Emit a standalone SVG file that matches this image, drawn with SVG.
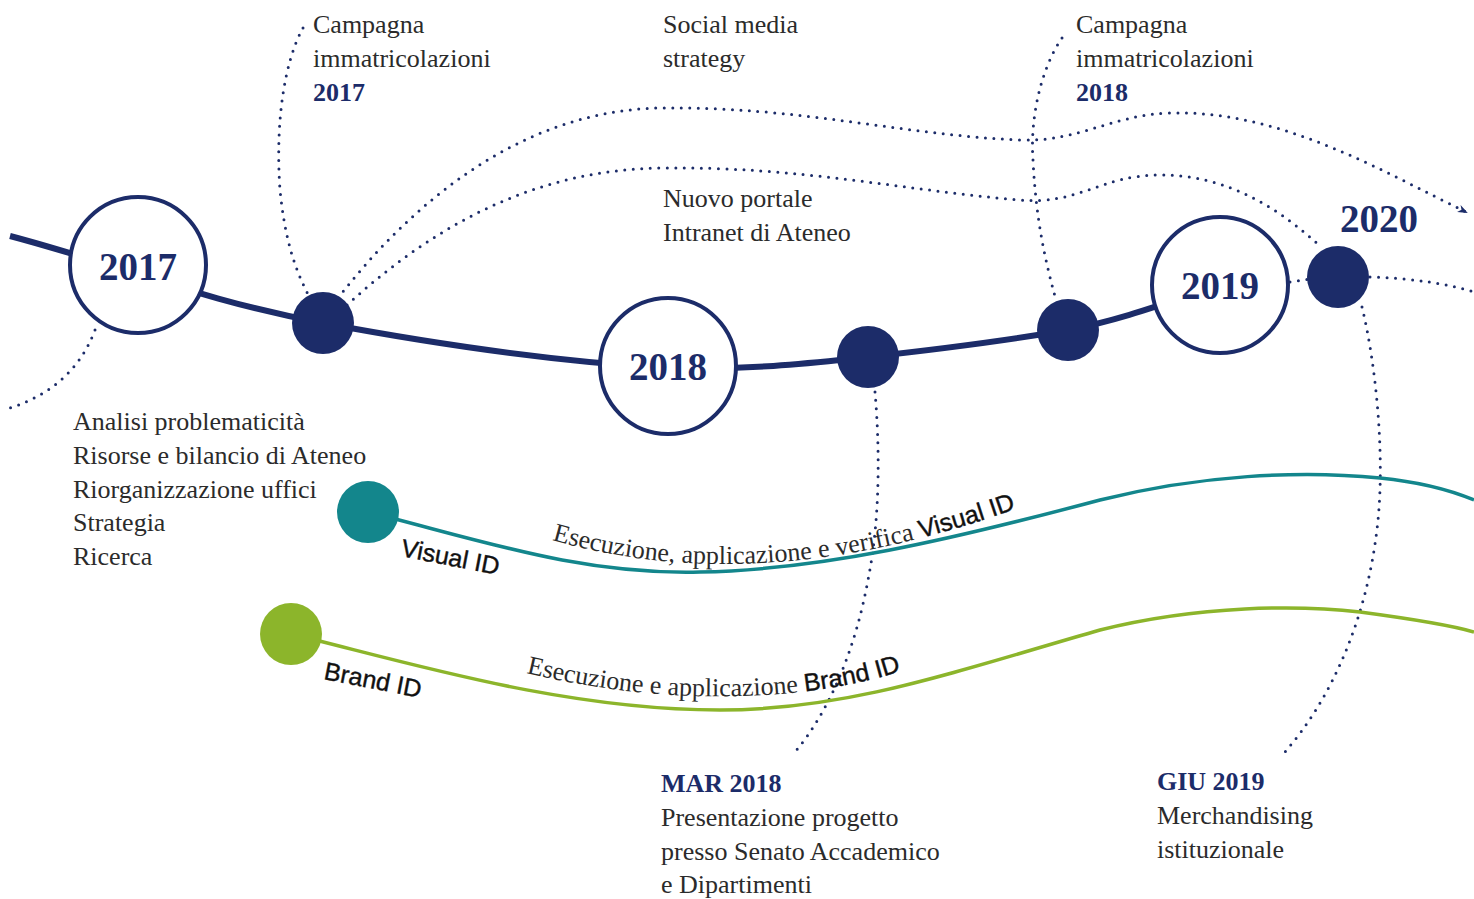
<svg xmlns="http://www.w3.org/2000/svg" width="1474" height="899" viewBox="0 0 1474 899">
<defs>
<style>
.serif{font-family:"Liberation Serif","Times New Roman",serif;font-size:26px;fill:#2b2b2b}
.navyb{font-family:"Liberation Serif","Times New Roman",serif;font-size:26px;font-weight:bold;fill:#1c2c69}
.year{font-family:"Liberation Serif","Times New Roman",serif;font-size:39px;font-weight:bold;fill:#1c2c69;text-anchor:middle}
.sans{font-family:"Liberation Sans",Arial,sans-serif;font-size:25px;fill:#111;stroke:#111;stroke-width:0.4}
.pathtxt{font-family:"Liberation Serif","Times New Roman",serif;font-size:26px;fill:#2b2b2b}
.dot{fill:none;stroke:#1c2c69;stroke-width:3;stroke-linecap:round;stroke-dasharray:0 8.5}
.main{fill:none;stroke:#1c2c69;stroke-width:6}
.ring{fill:#fff;stroke:#1c2c69;stroke-width:4}
.node{fill:#1c2c69}
</style>
<marker id="arr" viewBox="0 0 10 10" refX="8" refY="5" markerWidth="10" markerHeight="10" markerUnits="userSpaceOnUse" orient="auto">
<path d="M0 1 L10 5 L0 9 L3 5 Z" fill="#1c2c69"/>
</marker>
<path id="tpVisual" d="M 552 540 C 640 565, 720 568, 800 560 C 880 552, 960 530, 1040 500"/>
<path id="tpBrand" d="M 526 673 C 620 695, 700 700, 780 694 C 830 690, 880 680, 920 664"/>
</defs>
<rect width="1474" height="899" fill="#fff"/>

<g id="connectors">
<path class="main" d="M 10 236 C 120 265, 200 300, 323 323 S 560 362, 668 368 C 760 370, 820 362, 868 357 C 950 348, 1010 340, 1068 330 C 1120 320, 1160 305, 1220 285"/>
<path class="dot" d="M 1290 282 L 1310 279"/>
<path class="dot" d="M 1370 277 C 1410 278, 1450 284, 1474 292"/>
<path class="dot" d="M 95 330 C 80 370, 50 395, 10 408"/>
<path class="dot" d="M 303 28 C 285 60, 275 120, 280 190 C 285 240, 295 270, 310 298"/>
<path class="dot" d="M 338 298 C 430 180, 540 110, 660 108 C 800 106, 900 135, 1020 140 C 1080 142, 1110 115, 1170 113 C 1280 110, 1380 170, 1466 212" marker-end="url(#arr)"/>
<path class="dot" d="M 347 305 C 440 220, 540 170, 660 168 C 800 166, 900 190, 1020 200 C 1080 205, 1100 175, 1160 175 C 1230 175, 1280 210, 1320 246"/>
<path class="dot" d="M 1062 38 C 1040 70, 1030 120, 1033 160 C 1036 220, 1045 260, 1056 300"/>
<path class="dot" d="M 875 392 C 880 450, 880 520, 868 580 C 855 650, 830 710, 795 752"/>
<path class="dot" d="M 1362 307 C 1375 360, 1385 450, 1378 520 C 1368 620, 1330 700, 1285 752"/>
<path fill="none" stroke="#13868c" stroke-width="3.5" d="M 368 512 C 480 540, 580 575, 700 572 C 820 570, 950 540, 1100 500 C 1200 475, 1300 470, 1380 478 C 1420 482, 1450 490, 1474 500"/>
<path fill="none" stroke="#8cb52b" stroke-width="3.5" d="M 291 634 C 400 660, 560 710, 720 710 C 850 710, 960 670, 1100 630 C 1200 605, 1300 605, 1360 612 C 1420 620, 1450 625, 1474 632"/>
</g>

<g id="node-2017">
<circle class="ring" cx="138" cy="265" r="68"/>
<text class="year" x="138" y="280">2017</text>
</g>
<g id="node-campagna-2017">
<circle class="node" cx="323" cy="323" r="31"/>
<text class="serif" x="313" y="33">Campagna</text>
<text class="serif" x="313" y="67">immatricolazioni</text>
<text class="navyb" x="313" y="101">2017</text>
</g>
<g id="node-2018">
<circle class="ring" cx="668" cy="366" r="68"/>
<text class="year" x="668" y="380">2018</text>
</g>
<g id="node-mar-2018">
<circle class="node" cx="868" cy="357" r="31"/>
<text class="navyb" x="661" y="792">MAR 2018</text>
<text class="serif" x="661" y="826">Presentazione progetto</text>
<text class="serif" x="661" y="860">presso Senato Accademico</text>
<text class="serif" x="661" y="893">e Dipartimenti</text>
</g>
<g id="node-campagna-2018">
<circle class="node" cx="1068" cy="330" r="31"/>
<text class="serif" x="1076" y="33">Campagna</text>
<text class="serif" x="1076" y="67">immatricolazioni</text>
<text class="navyb" x="1076" y="101">2018</text>
</g>
<g id="node-2019">
<circle class="ring" cx="1220" cy="285" r="68"/>
<text class="year" x="1220" y="299">2019</text>
</g>
<g id="node-2020">
<circle class="node" cx="1338" cy="277" r="31"/>
<text class="year" x="1379" y="232">2020</text>
<text class="navyb" x="1157" y="790">GIU 2019</text>
<text class="serif" x="1157" y="824">Merchandising</text>
<text class="serif" x="1157" y="858">istituzionale</text>
</g>
<g id="label-social">
<text class="serif" x="663" y="33">Social media</text>
<text class="serif" x="663" y="67">strategy</text>
</g>
<g id="label-portale">
<text class="serif" x="663" y="207">Nuovo portale</text>
<text class="serif" x="663" y="241">Intranet di Ateneo</text>
</g>
<g id="label-analisi">
<text class="serif" x="73" y="430">Analisi problematicità</text>
<text class="serif" x="73" y="464">Risorse e bilancio di Ateneo</text>
<text class="serif" x="73" y="498">Riorganizzazione uffici</text>
<text class="serif" x="73" y="531">Strategia</text>
<text class="serif" x="73" y="565">Ricerca</text>
</g>
<g id="node-visual-id">
<circle cx="368" cy="512" r="31" fill="#13868c"/>
<text class="sans" transform="translate(400 556) rotate(11)">Visual ID</text>
<text><textPath href="#tpVisual"><tspan class="pathtxt">Esecuzione, applicazione e verifica </tspan><tspan class="sans">Visual ID</tspan></textPath></text>
</g>
<g id="node-brand-id">
<circle cx="291" cy="634" r="31" fill="#8cb52b"/>
<text class="sans" transform="translate(323 679) rotate(11)">Brand ID</text>
<text><textPath href="#tpBrand"><tspan class="pathtxt">Esecuzione e applicazione </tspan><tspan class="sans">Brand ID</tspan></textPath></text>
</g>
</svg>
